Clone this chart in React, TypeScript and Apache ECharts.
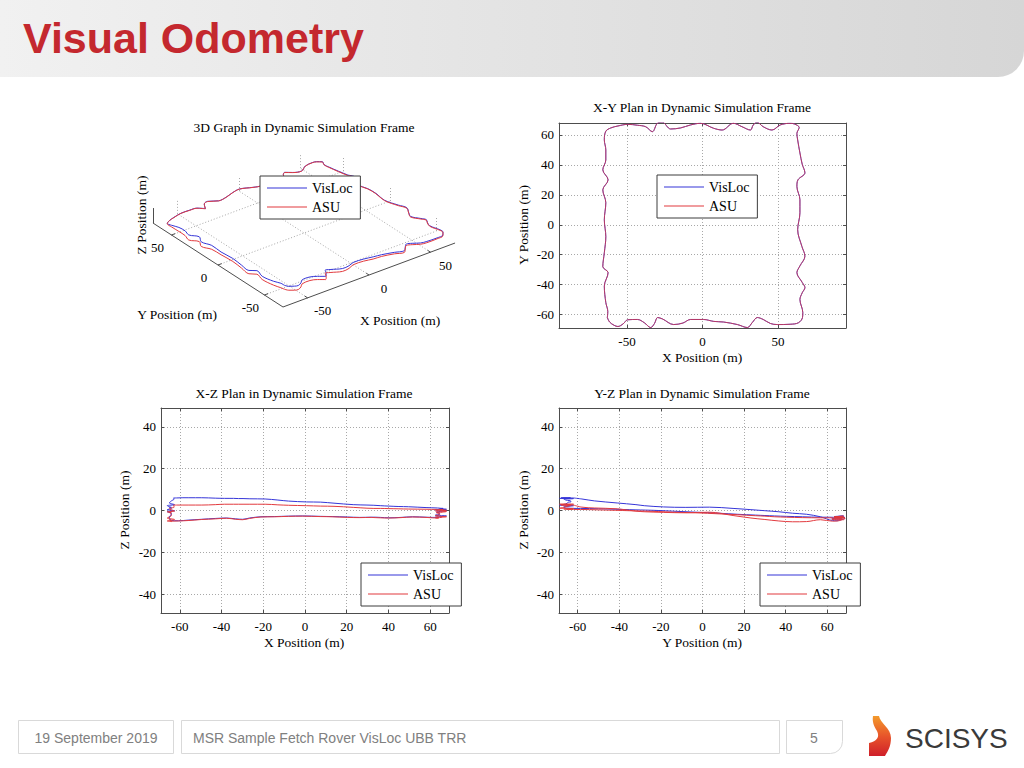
import React, { useEffect, useRef } from "react";
import * as echarts from "echarts";

// ---------------- data ----------------
const seriesNames = ["VisLoc", "ASU"];

// shared horizontal track (clockwise from the bottom-left corner)
const trackX = [
  -63.0, -61.5, -58.5, -56.0, -52.5, -49.5, -43.0, -38.5, -34.3, -31.8, -29.7, -26.4, -19.1, -13.0, -7.9, 0.7, 7.5, 13.9, 23.1, 29.7, 33.0, 36.3, 40.2, 45.0, 49.5, 58.0, 63.5, 66.2,
  66.4, 64.5, 66.0, 67.8, 66.0, 62.5, 64.5, 67.8, 65.8, 63.0, 64.5, 64.5, 62.5, 63.2, 67.8, 66.0, 64.5, 63.0, 62.5,
  64.0, 61.0, 58.0, 51.5, 46.0, 40.2, 36.1, 33.6, 31.7, 26.2, 20.4, 13.0, 7.3, -1.3, -7.9, -14.5, -21.1, -26.6, -29.9, -33.2, -37.6, -43.0, -49.5, -56.0, -60.7, -64.0,
  -65.0, -64.0, -64.0, -66.0, -62.5, -66.0, -64.0, -65.0, -64.0, -65.0, -66.0, -62.5, -65.0, -64.0, -62.7, -63.0,
];
const trackY = [
  -62.0, -65.0, -67.2, -68.0, -66.2, -63.5, -63.3, -65.5, -68.7, -66.0, -62.0, -63.0, -66.7, -65.7, -63.3, -63.3, -64.6, -65.0, -66.7, -68.7, -65.3, -62.0, -63.3, -66.0, -66.7, -66.5, -65.5, -62.0,
  -58.7, -50.0, -45.5, -42.0, -38.5, -32.0, -27.5, -21.0, -14.5, -3.3, 8.0, 16.7, 25.5, 30.0, 34.7, 40.5, 48.0, 56.7, 61.0,
  65.0, 67.3, 67.8, 66.7, 63.3, 65.5, 68.5, 66.7, 63.3, 65.5, 67.8, 63.3, 64.5, 67.8, 66.7, 64.7, 64.0, 68.5, 67.8, 62.2, 65.5, 66.5, 67.1, 66.0, 64.7, 62.5,
  56.7, 50.0, 43.3, 36.7, 30.0, 23.3, 14.7, 3.3, -8.0, -18.7, -28.0, -32.0, -41.0, -52.0, -58.0, -62.0,
];
const visLocZ = [
  6.0, 6.0, 6.1, 6.1, 6.1, 6.1, 5.9, 5.8, 5.8, 5.7, 5.7, 5.6, 5.5, 5.0, 4.5, 4.1, 4.0, 3.5, 2.8, 2.6, 2.5, 2.3, 2.1, 1.9, 1.8, 1.4, 1.2, 1.0,
  1.0, 0.8, 0.7, 0.6, 0.5, 0.3, 0.2, 0.0, -0.3, -0.8, -1.3, -1.8, -2.2, -2.4, -2.6, -2.8, -3.0, -3.2, -3.2,
  -3.3, -3.3, -3.2, -3.0, -3.3, -3.5, -3.3, -3.2, -3.2, -3.3, -3.1, -2.9, -2.8, -2.6, -2.7, -2.9, -3.0, -3.6, -4.2, -4.0, -3.6, -3.8, -4.2, -4.6, -4.9, -4.8,
  -3.0, -1.8, -1.3, -0.6, -0.1, 0.4, 1.0, 1.6, 1.5, 1.7, 2.3, 2.8, 3.6, 4.6, 5.5, 6.0,
];
const asuZ = [
  2.6, 2.6, 2.6, 2.6, 2.6, 2.6, 2.8, 3.0, 3.0, 3.0, 3.0, 3.0, 3.0, 2.7, 2.5, 2.3, 2.1, 2.0, 1.5, 1.1, 1.0, 1.0, 0.9, 0.8, 0.7, 0.6, 0.5, 0.5,
  0.5, 0.3, 0.2, 0.1, 0.0, -0.2, -0.3, -0.5, -0.8, -1.1, -1.6, -2.0, -2.5, -2.7, -3.0, -3.2, -3.4, -3.5, -3.5,
  -3.6, -3.5, -3.3, -3.1, -3.4, -3.6, -3.5, -3.4, -3.3, -3.4, -3.3, -3.0, -2.9, -2.7, -2.8, -3.0, -3.1, -3.8, -4.4, -4.2, -3.7, -4.0, -4.3, -4.8, -5.0, -5.1,
  -4.4, -5.3, -5.4, -5.0, -4.3, -3.6, -2.4, -0.8, -1.1, -0.9, -0.6, -0.3, 0.8, 1.2, 1.6, 2.6,
];

// tick labels
const xyTicksX = [-50, 0, 50];
const xyTicksY = [-60, -40, -20, 0, 20, 40, 60];
const planTicksH = [-60, -40, -20, 0, 20, 40, 60];
const planTicksZ = [-40, -20, 0, 20, 40];
const cubeTicks = [-50, 0, 50];

// ---------------- styles ----------------
const SERIF = "'Liberation Serif', 'Times New Roman', serif";
const SANS = "'Liberation Sans', Arial, sans-serif";
const FRAME = "#4d4d4d";
const GRIDC = "#a8a8a8";
const BLUE = "#3535d8";
const RED = "#e23a3e";
// thin horizontal line icon (tiny corner dots keep the 40x14 box so the bar stays 1px high)
const LINE_ICON = "path://M0,0L0.01,0L0.01,0.01Z M0,6.5L40,6.5L40,7.6L0,7.6Z M40,14L39.99,14L39.99,13.99Z";

// 3D box limits and view (orthographic projection onto the slide)
const CUBE = { xmin: -70, xmax: 70, ymin: -70, ymax: 70, zmin: -6, zmax: 7 };
function proj(x: number, y: number, z: number): [number, number] {
  const dx = x - CUBE.xmin;
  const dy = y - CUBE.ymin;
  const dz = z - CUBE.zmin;
  return [283 + dx * 1.229 - dy * 0.929, 307 - dx * 0.457 - dy * 0.6 - dz * 1.15];
}

echarts.graphic.registerShape(
  "scisysLogo",
  echarts.graphic.extendPath(
    "M 5 0 L 11 0 C 12 7 23 12 23 22 C 23 30 20 35 17 40 L 1 40 L 1 27 C 9 25 12 21 9 15 C 6 10 4 6 5 0 Z",
    {}
  )
);

function planAxisPair(gridIndex: number, min: number, max: number, ticks: number[], dim: "x" | "y") {
  const common: any = {
    type: "value",
    gridIndex,
    min,
    max,
    axisLine: { show: true, onZero: false, lineStyle: { color: FRAME, width: 1 } },
    axisTick: { show: true, inside: true, length: 3, customValues: ticks, lineStyle: { color: FRAME, width: 1 } },
  };
  const primary = {
    ...common,
    position: dim === "x" ? "bottom" : "left",
    axisLabel: {
      show: true,
      customValues: ticks,
      margin: dim === "x" ? 7 : 5,
      color: "#000",
      fontFamily: SERIF,
      fontSize: 13,
    },
    splitLine: { show: true, lineStyle: { color: GRIDC, width: 1, type: [1, 2] } },
  };
  const mirror = {
    ...common,
    position: dim === "x" ? "top" : "right",
    axisLabel: { show: false, customValues: ticks },
    splitLine: { show: false },
  };
  return [primary, mirror];
}

function lineSeries(name: string, color: string, data: number[][], axisIndex: number, z: number, opacity = 1) {
  return {
    type: "line",
    name,
    data,
    xAxisIndex: axisIndex,
    yAxisIndex: axisIndex,
    symbol: "none",
    showSymbol: false,
    smooth: 0.35,
    silent: true,
    z,
    color,
    itemStyle: { color },
    lineStyle: { color, width: 1, opacity },
  };
}

function legendAt(left: number, top: number) {
  return {
    data: seriesNames.map((n) => ({ name: n, icon: LINE_ICON })),
    orient: "vertical",
    left,
    top,
    itemWidth: 40,
    itemHeight: 14,
    itemGap: 5,
    padding: [5, 8, 5, 7],
    backgroundColor: "#fff",
    borderColor: "#3c3c3c",
    borderWidth: 1,
    borderRadius: 0,
    selectedMode: false,
    textStyle: { fontFamily: SERIF, fontSize: 14, color: "#000" },
    z: 10,
  };
}

function txt(t: string, x: number, y: number, extra: any = {}, rotation = 0) {
  return {
    type: "text",
    x,
    y,
    rotation,
    silent: true,
    z: 20,
    style: {
      text: t,
      fill: "#000",
      fontFamily: SERIF,
      fontSize: 13.5,
      align: "center",
      verticalAlign: "middle",
      ...extra,
    },
  };
}

function buildOption() {
  const xy = trackX.map((x, i) => [x, trackY[i]]);
  const xzV = trackX.map((x, i) => [x, visLocZ[i]]);
  const xzA = trackX.map((x, i) => [x, asuZ[i]]);
  const yzV = trackY.map((y, i) => [y, visLocZ[i]]);
  const yzA = trackY.map((y, i) => [y, asuZ[i]]);
  const cubeV = trackX.map((x, i) => proj(x, trackY[i], visLocZ[i]));
  const cubeA = trackX.map((x, i) => proj(x, trackY[i], asuZ[i]));

  const { xmin, xmax, ymin, ymax, zmin, zmax } = CUBE;
  const frameSegs = [
    [proj(xmin, ymin, zmin), proj(xmax, ymin, zmin)],
    [proj(xmin, ymin, zmin), proj(xmin, ymax, zmin)],
    [proj(xmin, ymax, zmin), proj(xmin, ymax, zmax)],
  ];
  const tickSegs: number[][][] = [];
  const gridSegs: number[][][] = [];
  cubeTicks.forEach((t) => {
    tickSegs.push([proj(t, ymin, zmin), proj(t, ymin + 3, zmin)]);
    tickSegs.push([proj(xmin, t, zmin), proj(xmin + 3, t, zmin)]);
    gridSegs.push([proj(t, ymin, zmin), proj(t, ymax, zmin)]);
    gridSegs.push([proj(xmin, t, zmin), proj(xmax, t, zmin)]);
    gridSegs.push([proj(t, ymax, zmin), proj(t, ymax, zmax)]);
    gridSegs.push([proj(xmax, t, zmin), proj(xmax, t, zmax)]);
  });

  const [xyX, xyXm] = planAxisPair(0, -95, 95, xyTicksX, "x");
  const [xyY, xyYm] = planAxisPair(0, -69, 68, xyTicksY, "y");
  const [xzX, xzXm] = planAxisPair(1, -69, 69, planTicksH, "x");
  const [xzY, xzYm] = planAxisPair(1, -49, 49, planTicksZ, "y");
  const [yzX, yzXm] = planAxisPair(2, -69, 69, planTicksH, "x");
  const [yzY, yzYm] = planAxisPair(2, -49, 49, planTicksZ, "y");

  const graphics: any[] = [
    // header band
    {
      type: "rect",
      silent: true,
      z: 0,
      shape: { x: 0, y: 0, width: 1024, height: 77, r: [0, 0, 26, 0] },
      style: {
        fill: {
          type: "linear",
          x: 0,
          y: 0,
          x2: 1,
          y2: 0,
          colorStops: [
            { offset: 0, color: "#f1f1f1" },
            { offset: 1, color: "#d6d6d6" },
          ],
        },
      },
    },
    txt("Visual Odometry", 23, 38, { fontFamily: SANS, fontSize: 43, fontWeight: "bold", fill: "#c4282e", align: "left" }),
    // chart titles
    txt("3D Graph in Dynamic Simulation Frame", 304, 127),
    txt("X-Y Plan in Dynamic Simulation Frame", 702, 107),
    txt("X-Z Plan in Dynamic Simulation Frame", 304, 393),
    txt("Y-Z Plan in Dynamic Simulation Frame", 702, 393),
    // axis names
    txt("X Position (m)", 702, 357),
    txt("Y Position (m)", 523, 225, {}, Math.PI / 2),
    txt("X Position (m)", 304, 642),
    txt("Z Position (m)", 124, 510, {}, Math.PI / 2),
    txt("Y Position (m)", 702, 642),
    txt("Z Position (m)", 523, 510, {}, Math.PI / 2),
    txt("X Position (m)", 400, 320),
    txt("Y Position (m)", 177, 314),
    txt("Z Position (m)", 141, 215, {}, Math.PI / 2),
    // footer
    {
      type: "rect",
      silent: true,
      shape: { x: 18.5, y: 720.5, width: 155, height: 33 },
      style: { fill: "#fff", stroke: "#d9d9d9", lineWidth: 1 },
    },
    {
      type: "rect",
      silent: true,
      shape: { x: 181.5, y: 720.5, width: 598, height: 33 },
      style: { fill: "#fff", stroke: "#d9d9d9", lineWidth: 1 },
    },
    {
      type: "rect",
      silent: true,
      shape: { x: 786.5, y: 720.5, width: 56, height: 33, r: [0, 0, 12, 0] },
      style: { fill: "#fff", stroke: "#d9d9d9", lineWidth: 1 },
    },
    txt("19 September 2019", 96, 738, { fontFamily: SANS, fontSize: 14, fill: "#808080" }),
    txt("MSR Sample Fetch Rover VisLoc UBB TRR", 193, 738, { fontFamily: SANS, fontSize: 14, fill: "#808080", align: "left" }),
    txt("5", 814, 738, { fontFamily: SANS, fontSize: 14, fill: "#808080" }),
    {
      type: "scisysLogo",
      silent: true,
      x: 868,
      y: 716,
      scaleX: 1,
      scaleY: 1,
      style: {
        fill: {
          type: "linear",
          x: 0,
          y: 0,
          x2: 0,
          y2: 1,
          colorStops: [
            { offset: 0, color: "#f39a2c" },
            { offset: 0.5, color: "#e8552a" },
            { offset: 1, color: "#cf1f2a" },
          ],
        },
      },
    },
    txt("SCISYS", 905, 738, { fontFamily: SANS, fontSize: 28, fill: "#3a3a3a", align: "left" }),
  ];
  cubeTicks.forEach((t) => {
    const px = proj(t, ymin, zmin);
    graphics.push(txt(String(t), px[0] + 15, px[1] + 13, { fontSize: 13 }));
    const py = proj(xmin, t, zmin);
    graphics.push(txt(String(t), py[0] - 14, py[1] + 12, { fontSize: 13 }));
  });

  return {
    animation: false,
    backgroundColor: "#fff",
    grid: [
      { left: 559, top: 123, width: 287, height: 205, outerBoundsMode: "none" },
      { left: 161, top: 408, width: 288, height: 205, outerBoundsMode: "none" },
      { left: 559, top: 408, width: 287, height: 205, outerBoundsMode: "none" },
      { left: 0, top: 0, width: 1024, height: 768, outerBoundsMode: "none" },
    ],
    xAxis: [xyX, xyXm, xzX, xzXm, yzX, yzXm, { type: "value", gridIndex: 3, min: 0, max: 1024, show: false }],
    yAxis: [xyY, xyYm, xzY, xzYm, yzY, yzYm, { type: "value", gridIndex: 3, min: 0, max: 768, inverse: true, show: false }],
    legend: [legendAt(260, 176), legendAt(657, 175), legendAt(361, 563), legendAt(760, 563)],
    graphic: graphics,
    series: [
      // X-Y plan
      lineSeries("VisLoc", BLUE, xy, 0, 3),
      lineSeries("ASU", RED, xy, 0, 4, 0.75),
      // X-Z plan
      lineSeries("VisLoc", BLUE, xzV, 2, 3),
      lineSeries("ASU", RED, xzA, 2, 4),
      // Y-Z plan
      lineSeries("VisLoc", BLUE, yzV, 4, 3),
      lineSeries("ASU", RED, yzA, 4, 4),
      // 3D box
      {
        type: "lines",
        coordinateSystem: "cartesian2d",
        xAxisIndex: 6,
        yAxisIndex: 6,
        silent: true,
        z: 1,
        data: gridSegs.map((c) => ({ coords: c })),
        lineStyle: { color: GRIDC, width: 1, type: [1, 2], opacity: 1 },
      },
      {
        type: "lines",
        coordinateSystem: "cartesian2d",
        xAxisIndex: 6,
        yAxisIndex: 6,
        silent: true,
        z: 2,
        data: frameSegs.concat(tickSegs).map((c) => ({ coords: c })),
        lineStyle: { color: FRAME, width: 1, opacity: 1 },
      },
      lineSeries("VisLoc", BLUE, cubeV, 6, 3),
      lineSeries("ASU", RED, cubeA, 6, 4),
    ],
  };
}

export default function App() {
  const ref = useRef<HTMLDivElement>(null);
  useEffect(() => {
    if (!ref.current) return;
    const chart = echarts.init(ref.current, null, { renderer: "svg", width: 1024, height: 768 });
    chart.setOption(buildOption() as any);
    return () => chart.dispose();
  }, []);
  return (
    <div
      ref={ref}
      style={{ position: "fixed", left: 0, top: 0, width: 1024, height: 768, background: "#fff" }}
    />
  );
}
